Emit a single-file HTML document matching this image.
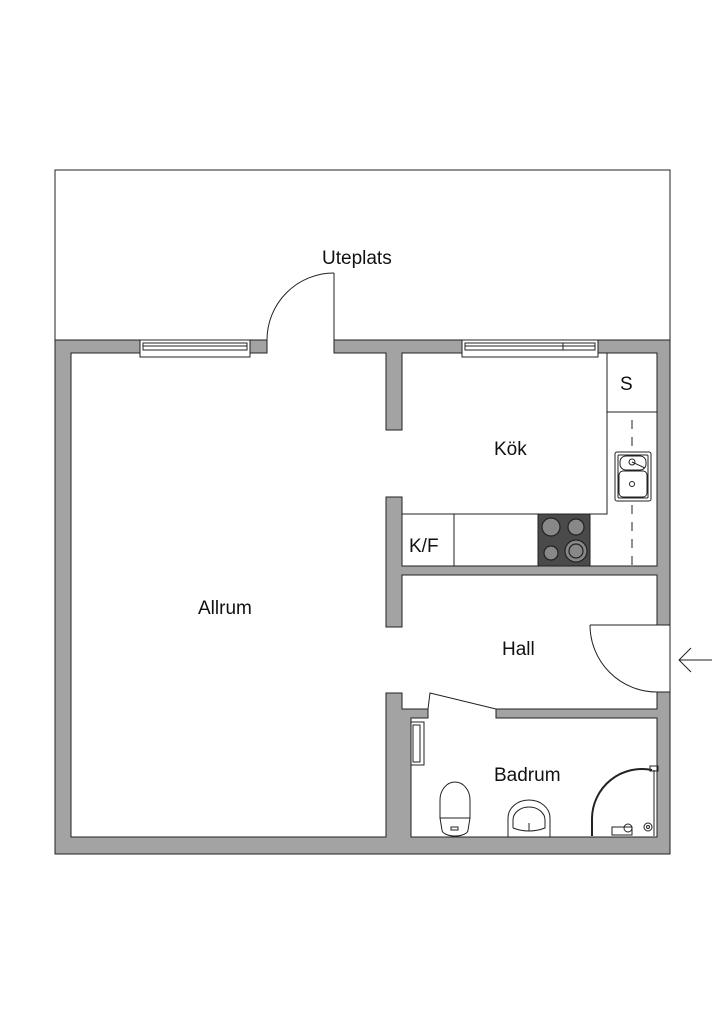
<!DOCTYPE html>
<html><head><meta charset="utf-8"><style>
html,body{margin:0;padding:0;background:#fff;width:724px;height:1024px;overflow:hidden}
text{font-family:"Liberation Sans",sans-serif;font-size:19px;fill:#111}
</style></head><body>
<svg width="724" height="1024" viewBox="0 0 724 1024" xmlns="http://www.w3.org/2000/svg">
<g stroke="#222" stroke-width="1" fill="none">
<!-- terrace -->
<polyline points="55,340 55,170 670,170 670,340"/>
</g>
<g fill="#a3a3a3" stroke="#222" stroke-width="1">
<!-- outer walls -->
<path d="M55,340 H140 V353 H71 V837 H386 V693 H402 V709 H428 V718 H411 V837 H657 V718 H496 V709 H657 V692 H670 V854 H55 Z"/>
<rect x="250" y="340" width="17" height="13"/>
<path d="M334,340 H462 V353 H402 V430 H386 V353 H334 Z"/>
<path d="M598,340 H670 V625 H657 V575 H402 V627 H386 V497 H402 V566 H657 V353 H598 Z"/>
</g>
<g stroke="#222" stroke-width="1" fill="#fff">
<!-- windows -->
<rect x="140" y="340" width="110" height="17"/>
<rect x="143" y="343" width="104" height="7"/>
<line x1="143" y1="346" x2="247" y2="346"/>
<rect x="462" y="340" width="136" height="17"/>
<rect x="465" y="343" width="130" height="7"/>
<line x1="465" y1="346" x2="595" y2="346"/>
<line x1="563" y1="343" x2="563" y2="350"/>
</g>
<g stroke="#222" stroke-width="1" fill="none">
<!-- terrace door -->
<line x1="334" y1="340" x2="334" y2="273"/>
<path d="M334,273 A67,67 0 0 0 267,340"/>
<!-- kitchen counters -->
<polyline points="402,514 607,514 607,353"/>
<line x1="607" y1="412" x2="657" y2="412"/>
<line x1="454" y1="514" x2="454" y2="566"/>
<line x1="632" y1="420" x2="632" y2="566" stroke-dasharray="9,8"/>
<!-- sink -->
<rect x="615" y="452" width="36" height="49" rx="2" fill="#fff"/>
<rect x="618" y="455" width="30" height="43" rx="1"/>
<rect x="620" y="456" width="26" height="14" rx="6"/>
<rect x="619" y="471" width="28" height="26" rx="4"/>
<circle cx="632" cy="462" r="3"/>
<line x1="632" y1="462" x2="645" y2="468"/>
<circle cx="632" cy="484" r="2.5"/>
<!-- entrance door -->
<line x1="590" y1="625" x2="657" y2="625"/>
<path d="M590,625 A67,67 0 0 0 657,692"/>
<line x1="670" y1="625" x2="670" y2="692"/>
<path d="M712,660 H679 M691,648 L679,660 L691,672"/>
<!-- bath door -->
<polyline points="428,709 430,693 496,709"/>
<!-- radiator -->
<rect x="411" y="722" width="13" height="43" fill="#fff"/>
<rect x="413" y="725" width="7" height="37"/>
<!-- toilet -->
<path d="M440,818 V800 A15,18 0 0 1 470,800 V818 Z"/>
<path d="M440,818 H470 L468,830 A13,6 0 0 1 442,830 Z"/>
<rect x="451" y="827" width="7" height="3"/>
<!-- basin -->
<path d="M508,837 V818 A21,18 0 0 1 550,818 V837"/>
<path d="M513,828 V820 A16,13 0 0 1 545,820 V828 Q529,834 513,828"/>
<line x1="529" y1="823" x2="529" y2="831"/>
<!-- shower -->
<path d="M592,836 V818 A50,50 0 0 1 652,770" stroke-width="2"/>
<line x1="654" y1="770" x2="654" y2="836"/>
<rect x="650" y="766" width="8" height="5"/>
<circle cx="648" cy="827" r="4"/><circle cx="648" cy="827" r="1.5"/>
<rect x="612" y="827" width="20" height="8"/>
<circle cx="628" cy="828" r="4"/>
</g>
<!-- stove -->
<rect x="538" y="514" width="52" height="52" fill="#4a4a4a" stroke="#222"/>
<g fill="#888" stroke="#222" stroke-width="1.2">
<circle cx="551" cy="527" r="9"/><circle cx="576" cy="527" r="8"/>
<circle cx="551" cy="553" r="7"/><circle cx="576" cy="551" r="11"/>
<circle cx="576" cy="551" r="7"/>
</g>
<text x="322" y="264">Uteplats</text>
<text x="494" y="455">Kök</text>
<text x="620" y="390">S</text>
<text x="409" y="552">K/F</text>
<text x="198" y="614">Allrum</text>
<text x="502" y="655">Hall</text>
<text x="494" y="781">Badrum</text>
</svg>
</body></html>
